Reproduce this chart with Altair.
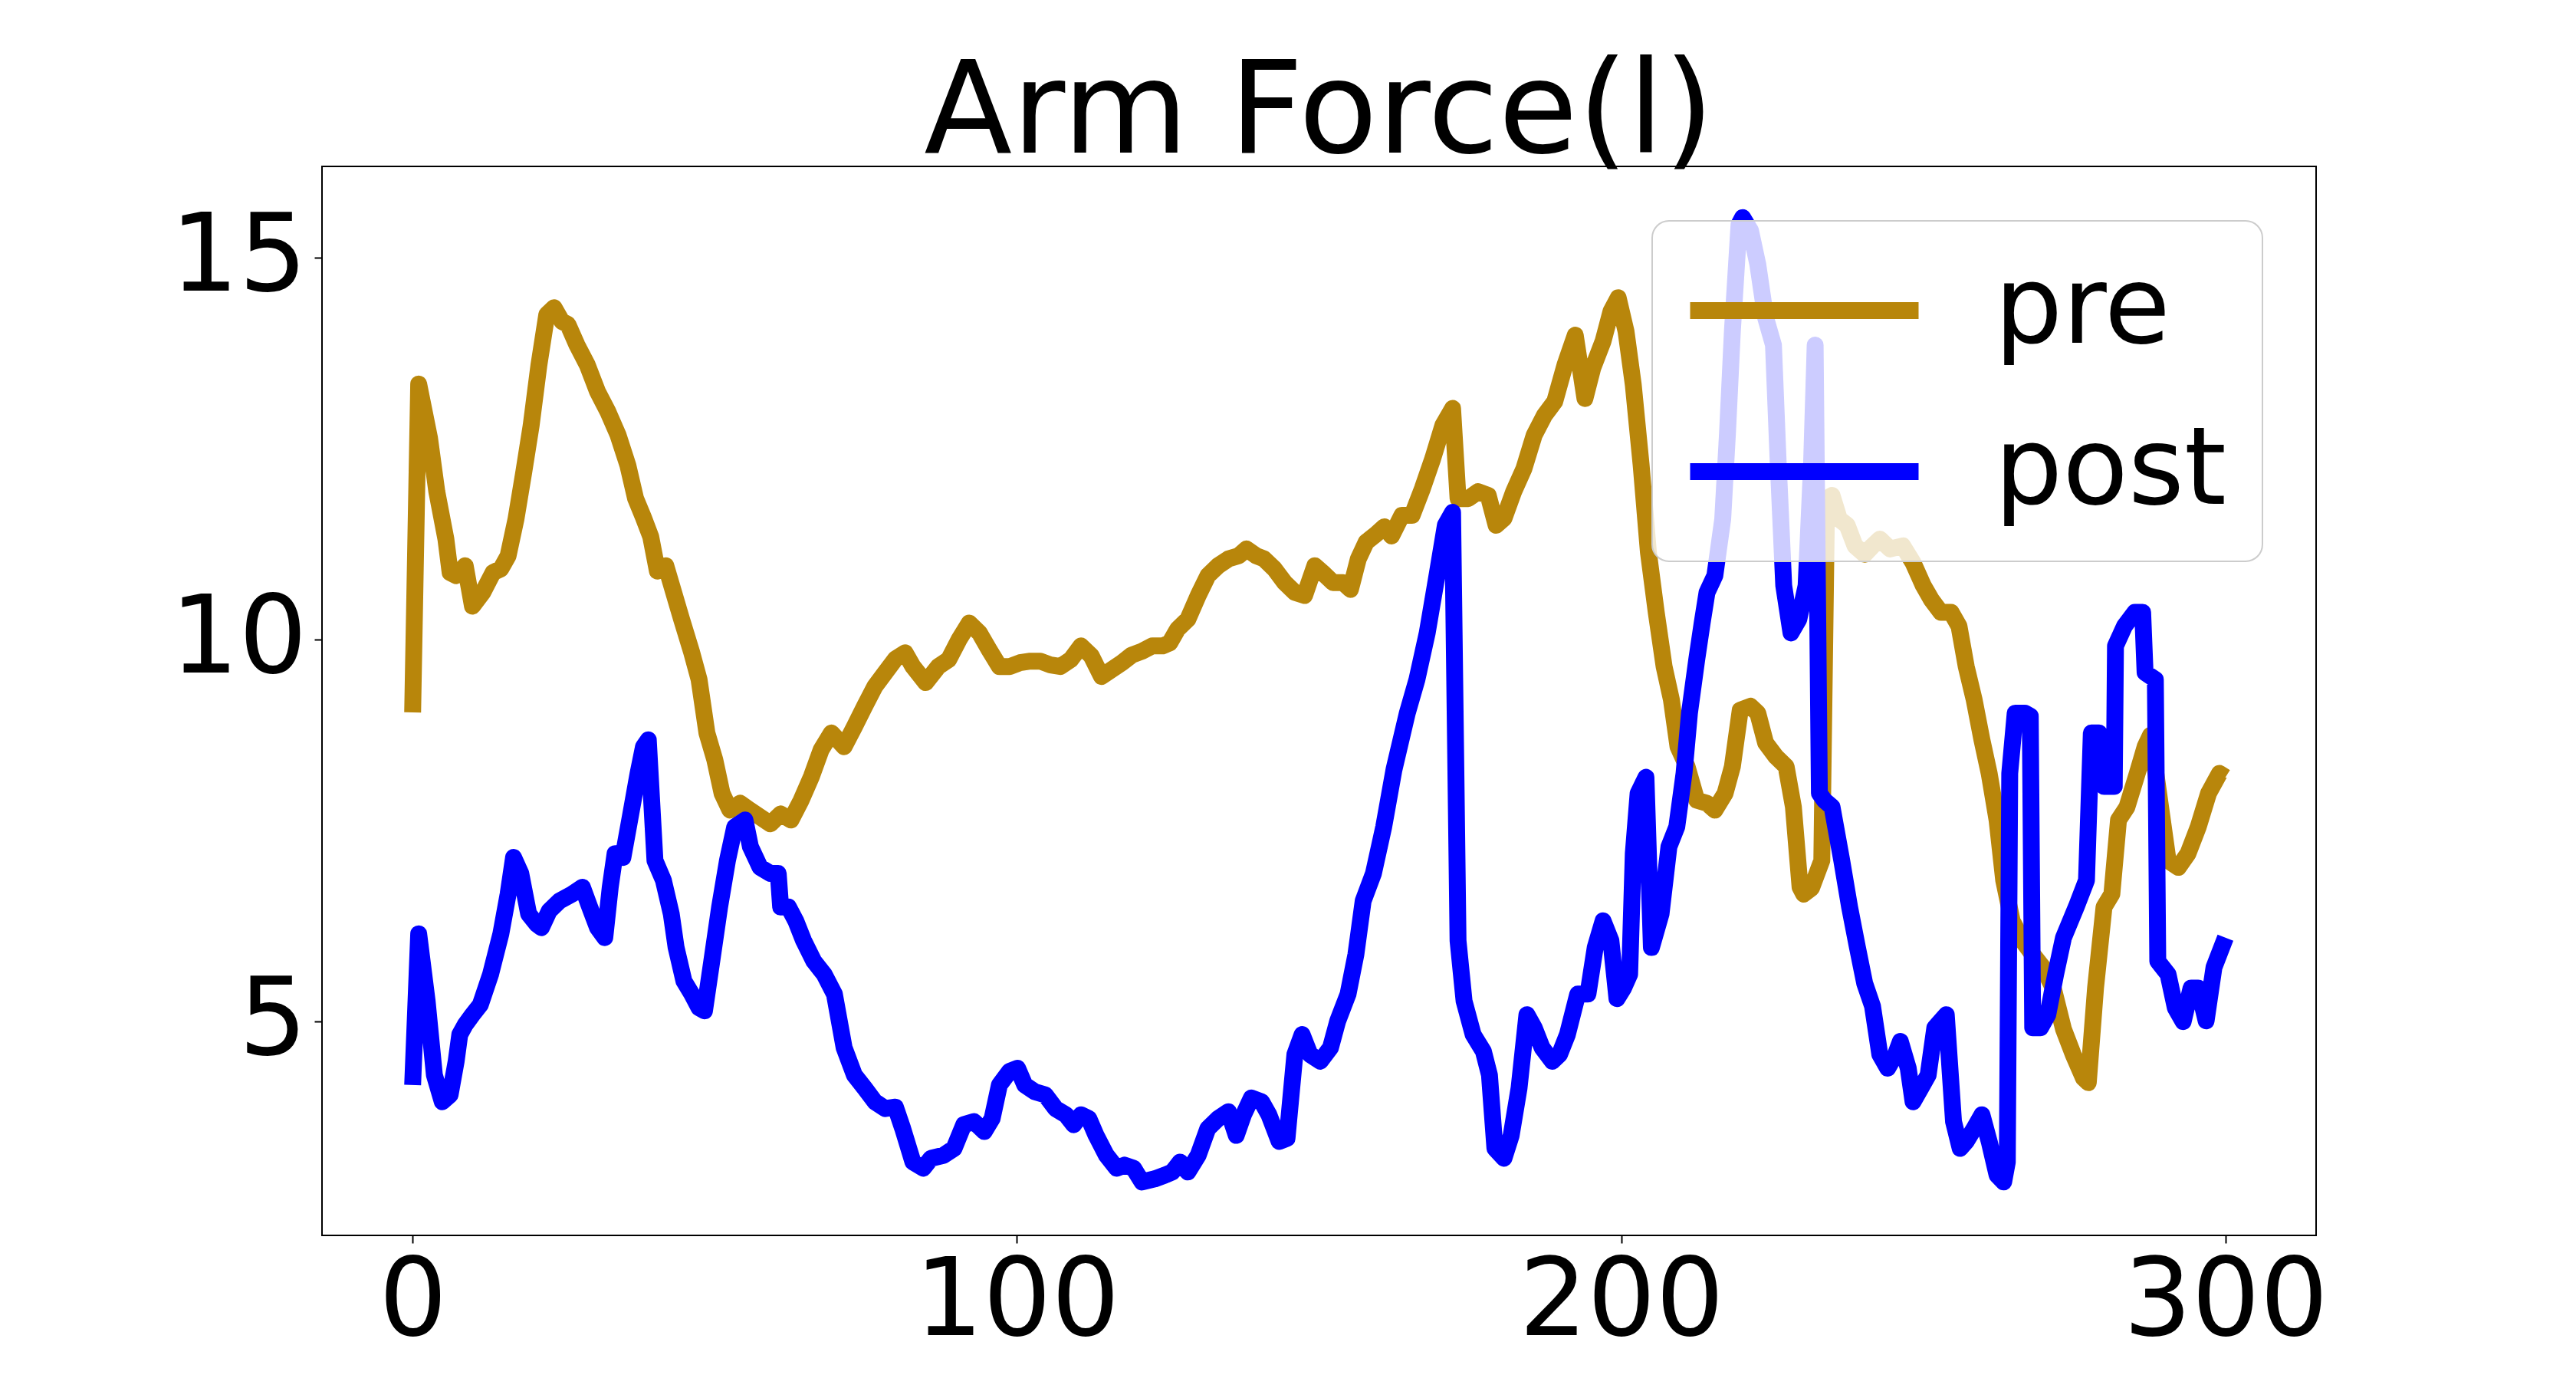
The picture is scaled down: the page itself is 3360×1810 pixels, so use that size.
import altair as alt
import pandas as pd

TITLE = "Arm Force(l)"
SERIES = ["pre", "post"]
COLORS = ["#b8860b", "#0000ff"]
X_TICKS = [0, 100, 200, 300]
Y_TICKS = [5, 10, 15]

pre_x = [0, 1, 2.8, 4.0, 5.5, 6.2, 7.2, 8.7, 9.9, 11.6, 13.3, 14.6, 15.8, 17.1, 18.4, 19.6, 20.9, 22.2,
         23.4, 24.7, 25.7, 27.2, 28.9, 30.6, 32.3, 34.0, 35.6, 36.9, 38.2, 39.4, 40.5, 41.9, 43.2, 44.5,
         46.2, 47.4, 48.7, 50.0, 51.2, 52.5, 54.2, 55.8, 57.5, 59.2, 60.9, 62.6, 64.3, 66.0, 67.6, 69.3,
         71.4, 73.1, 74.8, 76.5, 78.2, 79.9, 81.5, 82.8, 84.9, 87.0, 88.7, 90.4, 92.1, 93.8, 95.4, 97.1,
         98.8, 100.5, 102.2, 103.9, 105.6, 107.2, 108.9, 110.6, 112.3, 114.0, 115.7, 117.4, 119.0, 120.7,
         122.4, 124.1, 125.3, 126.6, 128.3, 130.0, 131.6, 133.3, 135.0, 136.7, 138.0, 139.6, 140.9, 142.6,
         144.3, 146.0, 147.6, 149.3, 150.6, 152.3, 154.0, 155.2, 156.5, 157.8, 159.4, 160.8, 162.0, 163.7,
         165.4, 167.1, 168.8, 170.5, 172.1, 173.0, 174.7, 176.3, 178.0, 179.3, 180.6, 182.2, 183.9, 185.6,
         187.3, 189.0, 190.7, 192.4, 194.0, 195.3, 197.0, 198.3, 199.5, 200.8, 202.0, 203.3, 204.5, 205.8,
         207.1, 208.3, 209.4, 210.9, 212.5, 214.2, 215.5, 217.2, 218.4, 219.7, 221.4, 222.6, 223.9, 225.6,
         227.3, 228.5, 229.6, 230.2, 231.5, 233.2, 234.0, 234.9, 236.1, 237.4, 238.7, 240.3, 241.6, 242.8,
         244.5, 246.6, 248.3, 250.0, 251.3, 252.9, 254.6, 255.9, 257.1, 258.4, 259.7, 260.9, 262.2, 263.3,
         264.7, 266.4, 268.1, 269.8, 271.5, 273.2, 274.8, 276.5, 277.3, 278.5, 279.9, 281.2, 282.3, 283.7,
         285.4, 286.7, 287.6, 290.5, 292.2, 293.8, 295.5, 297.2, 299.0, 300.0]
pre_y = [9.05, 13.35, 12.64, 11.94, 11.32, 10.88, 10.84, 10.97, 10.44, 10.62, 10.88, 10.93, 11.1, 11.58,
         12.2, 12.8, 13.6, 14.26, 14.35, 14.17, 14.13, 13.86, 13.6, 13.25, 12.99, 12.68, 12.29, 11.85, 11.6,
         11.35, 10.9, 10.97, 10.62, 10.27, 9.83, 9.48, 8.78, 8.43, 7.99, 7.77, 7.86, 7.77, 7.68, 7.59, 7.72,
         7.64, 7.9, 8.21, 8.56, 8.78, 8.6, 8.86, 9.13, 9.39, 9.57, 9.75, 9.83, 9.65, 9.44, 9.65, 9.74, 10.0,
         10.22, 10.09, 9.87, 9.65, 9.65, 9.7, 9.72, 9.72, 9.67, 9.65, 9.74, 9.92, 9.79, 9.52, 9.61, 9.7, 9.8,
         9.85, 9.92, 9.92, 9.96, 10.14, 10.27, 10.58, 10.84, 10.97, 11.06, 11.1, 11.19, 11.1, 11.06, 10.93,
         10.75, 10.62, 10.58, 10.97, 10.88, 10.75, 10.75, 10.66, 11.06, 11.28, 11.38, 11.48, 11.36, 11.63,
         11.63, 11.98, 12.37, 12.81, 13.03, 11.85, 11.85, 11.94, 11.89, 11.5, 11.59, 11.94, 12.24, 12.68,
         12.94, 13.12, 13.6, 13.99, 13.16, 13.56, 13.91, 14.3, 14.48, 14.04, 13.34, 12.29, 11.15, 10.36,
         9.65, 9.22, 8.6, 8.34, 7.9, 7.86, 7.77, 7.99, 8.34, 9.08, 9.13, 9.04, 8.65, 8.47, 8.34, 7.81, 6.76,
         6.67, 6.75, 7.11, 11.85, 11.89, 11.58, 11.5, 11.23, 11.12, 11.23, 11.32, 11.19, 11.23, 11.01, 10.71,
         10.53, 10.36, 10.36, 10.18, 9.65, 9.22, 8.69, 8.25, 7.64, 6.85, 6.32, 6.06, 5.88, 5.71, 5.44, 4.9,
         4.57, 4.26, 4.2, 5.44, 6.5, 6.67, 7.64, 7.81, 8.25, 8.6, 8.75, 7.11, 7.02, 7.2, 7.55, 7.99, 8.25, 8.2]

post_x = [0, 1, 2.4, 3.6, 4.9, 6.2, 7.2, 7.8, 8.7, 9.9, 11.2, 12.9, 14.6, 15.8, 16.7, 17.9, 19.2, 20.5,
          21.3, 22.6, 24.3, 26.4, 28.1, 29.3, 30.6, 31.8, 32.7, 33.5, 34.8, 36.1, 37.3, 38.2, 39.0, 40.1,
          41.5, 42.8, 43.6, 44.9, 46.2, 47.4, 48.3, 49.5, 50.8, 52.1, 53.3, 55.0, 55.9, 57.5, 59.2, 60.5,
          60.9, 62.2, 63.4, 64.7, 66.4, 68.1, 69.8, 71.4, 73.1, 74.8, 76.5, 78.2, 79.9, 81.1, 82.8, 84.5,
          85.8, 87.9, 89.6, 91.2, 92.9, 94.6, 95.9, 97.1, 98.8, 100.1, 101.3, 103.0, 104.7, 106.4, 108.1,
          109.4, 110.6, 111.9, 113.1, 114.8, 116.5, 117.8, 119.3, 120.7, 122.8, 124.5, 125.7, 127.0, 128.3,
          130.0, 131.6, 133.3, 135.0, 136.3, 137.5, 138.8, 140.5, 141.7, 143.4, 144.7, 146.0, 147.2, 148.5,
          150.2, 151.9, 153.1, 154.8, 156.1, 157.3, 159.0, 160.7, 162.4, 164.6, 166.2, 167.9, 169.6, 170.9,
          172.1, 173.0, 174.0, 175.5, 177.2, 178.2, 179.1, 180.6, 181.8, 183.1, 184.4, 185.6, 186.9, 188.6,
          189.8, 191.1, 192.8, 194.5, 195.7, 197.0, 198.3, 199.3, 200.4, 201.4, 202.0, 202.8, 204.1, 205.0,
          206.6, 207.9, 209.2, 210.4, 211.3, 212.5, 213.4, 214.2, 215.5, 216.8, 217.6, 218.4, 219.5, 220.1,
          221.4, 222.6, 223.9, 225.2, 226.0, 226.9, 228.1, 229.4, 230.6, 231.5, 232.1, 232.8, 233.6, 234.9,
          236.5, 237.8, 239.1, 240.3, 241.6, 242.8, 244.1, 245.4, 246.2, 247.5, 248.3, 249.6, 250.8, 251.9,
          252.9, 253.8, 255.0, 256.1, 257.1, 258.4, 259.7, 260.9, 262.2, 263.3, 263.9, 264.3, 265.2, 266.8,
          267.7, 268.1, 269.4, 270.6, 271.9, 273.2, 275.3, 277.0, 277.8, 279.1, 279.9, 281.6, 281.8, 283.3,
          285.0, 286.3, 286.7, 288.4, 288.8, 290.5, 291.7, 293.0, 294.3, 295.5, 296.8, 298.1, 300.0]
post_y = [4.17, 6.15, 5.27, 4.3, 3.95, 4.04, 4.48, 4.83, 4.96, 5.09, 5.22, 5.62, 6.15, 6.67, 7.15, 6.94,
          6.41, 6.28, 6.23, 6.45, 6.58, 6.67, 6.76, 6.5, 6.23, 6.1, 6.76, 7.2, 7.15, 7.72, 8.25, 8.6, 8.69,
          7.11, 6.85, 6.41, 5.97, 5.53, 5.36, 5.18, 5.14, 5.79, 6.5, 7.11, 7.55, 7.64, 7.29, 7.02, 6.94, 6.94,
          6.5, 6.5, 6.32, 6.06, 5.79, 5.62, 5.36, 4.66, 4.3, 4.13, 3.95, 3.86, 3.88, 3.6, 3.16, 3.08, 3.21,
          3.25, 3.34, 3.65, 3.69, 3.56, 3.73, 4.17, 4.35, 4.39, 4.17, 4.08, 4.04, 3.86, 3.78, 3.65, 3.78,
          3.73, 3.51, 3.25, 3.08, 3.12, 3.08, 2.9, 2.94, 2.99, 3.03, 3.16, 3.03, 3.25, 3.6, 3.73, 3.82, 3.51,
          3.78, 4.0, 3.95, 3.78, 3.43, 3.47, 4.57, 4.83, 4.57, 4.48, 4.66, 5.01, 5.36, 5.88, 6.58, 6.94, 7.55,
          8.3, 9.04, 9.48, 10.09, 10.88, 11.5, 11.67, 6.06, 5.27, 4.83, 4.61, 4.3, 3.34, 3.21, 3.51, 4.13,
          5.09, 4.92, 4.66, 4.48, 4.57, 4.83, 5.36, 5.36, 5.97, 6.32, 6.06, 5.3, 5.44, 5.62, 7.2, 7.99, 8.2,
          5.97, 6.41, 7.29, 7.55, 8.25, 9.04, 9.74, 10.22, 10.62, 10.84, 11.58, 12.72, 14.04, 15.44, 15.53,
          15.36, 14.92, 14.22, 13.86, 12.29, 10.71, 10.09, 10.27, 10.71, 12.29, 13.86, 7.99, 7.9, 7.81, 7.11,
          6.5, 5.97, 5.5, 5.2, 4.57, 4.39, 4.57, 4.74, 4.39, 3.95, 4.13, 4.3, 4.92, 5.01, 5.09, 3.69, 3.34,
          3.43, 3.6, 3.78, 3.43, 2.99, 2.9, 3.16, 8.25, 9.04, 9.04, 9.0, 4.92, 4.92, 5.09, 5.62, 6.1, 6.5,
          6.85, 8.78, 8.78, 8.08, 8.08, 9.92, 10.18, 10.36, 10.36, 9.57, 9.48, 5.79, 5.62, 5.18, 5.0, 5.44,
          5.44, 5.01, 5.71, 6.1]

df = pd.concat([
    pd.DataFrame({"x": pre_x, "y": pre_y, "series": SERIES[0], "o": range(len(pre_x))}),
    pd.DataFrame({"x": post_x, "y": post_y, "series": SERIES[1], "o": range(len(post_x))}),
])

FONT = "DejaVu Sans"

xenc = alt.X("x:Q", scale=alt.Scale(domain=[-15, 315], nice=False, zero=False),
             axis=alt.Axis(values=X_TICKS, title=None, labelPadding=8))
yenc = alt.Y("y:Q", scale=alt.Scale(domain=[2.2, 16.2], nice=False, zero=False),
             axis=alt.Axis(values=Y_TICKS, title=None, labelPadding=10))
cenc = alt.Color(
    "series:N",
    scale=alt.Scale(domain=SERIES, range=COLORS),
    legend=alt.Legend(
        title=None, orient="none", legendX=1735, legendY=71,
        fillColor="rgba(255,255,255,0.8)", strokeColor="#cccccc", cornerRadius=22,
        padding=47, symbolType="M-2.637,0H2.637", symbolSize=12769, symbolStrokeWidth=22,
        symbolOffset=81.5,
        labelFontSize=140, labelFont=FONT, labelColor="black", labelOffset=178,
        labelLimit=2000, rowPadding=70,
    ),
)

base = alt.Chart(df).mark_line(strokeWidth=22, strokeJoin="round", strokeCap="butt")

pre_layer = base.transform_filter(alt.datum.series == "pre").encode(
    x=xenc, y=yenc, color=cenc, order="o:Q")
post_layer = base.transform_filter(alt.datum.series == "post").encode(
    x=xenc, y=yenc, color=cenc, order="o:Q")

chart = alt.layer(pre_layer, post_layer).properties(
    width=2601, height=1394,
    title=alt.TitleParams(TITLE, fontSize=168, font=FONT, fontWeight="normal",
                          color="black", anchor="middle", offset=-17),
    autosize=alt.AutoSizeParams(type="none"),
    padding={"left": 412, "top": 209, "right": 330, "bottom": 190},
    background="white",
).configure_view(
    stroke="black", strokeWidth=2
).configure_axis(
    grid=False, domain=False, tickSize=10, tickWidth=2, tickColor="black",
    labelFont=FONT, labelFontSize=140, labelColor="black", labelLimit=2000,
    labelFlush=False, labelOverlap=False, labelBound=False,
).configure_legend(
    strokeWidth=2
)

chart.save("out.html", embed_options={"renderer": "svg", "actions": False})
